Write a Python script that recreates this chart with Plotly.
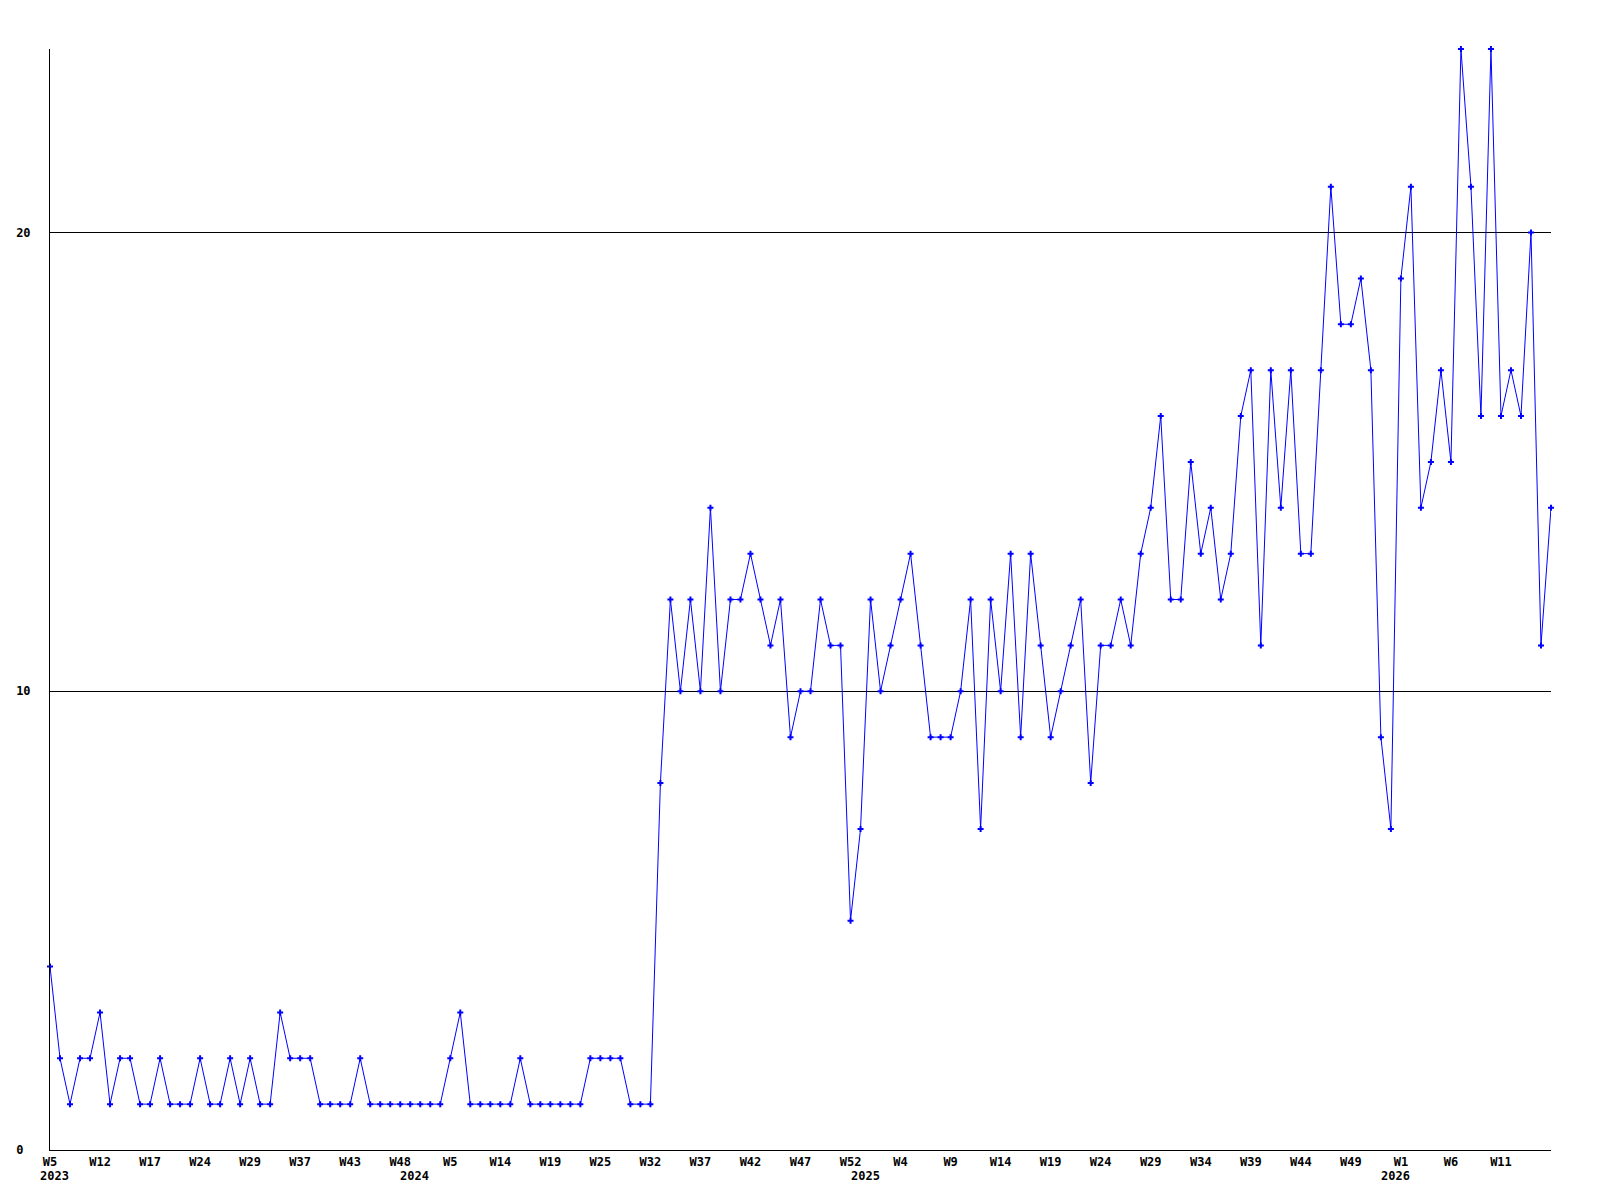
import plotly.graph_objects as go

# Week numbers present in the data, per year (weeks with no entry are skipped)
weeks_2023 = [5, 6, 7, 9, 10, 12, 13, 14, 15, 16, 17, 18, 20, 21, 23, 24, 25, 26, 27, 28,
              29, 31, 32, 34, 35, 37, 38, 39, 41, 42, 43, 44, 45, 46, 47, 48]
weeks_2024 = [1, 2, 3, 4, 5, 7, 9, 11, 12, 14, 15, 16, 17, 18, 19, 20, 21, 23, 24, 25,
              26, 28, 29, 30, 32] + list(range(33, 53))
weeks_2025 = list(range(0, 53))
weeks_2026 = list(range(0, 17))

years = [2023, 2024, 2025, 2026]

counts = [
    # 2023
    4, 2, 1, 2, 2, 3, 1, 2, 2, 1, 1, 2, 1, 1, 1, 2, 1, 1, 2, 1, 2, 1, 1, 3, 2, 2, 2, 1, 1, 1,
    1, 2, 1, 1, 1, 1,
    # 2024
    1, 1, 1, 1, 2, 3, 1, 1, 1, 1, 1, 2, 1, 1, 1, 1, 1, 1, 2, 2, 2, 2, 1, 1, 1,
    8, 12, 10, 12, 10, 14, 10, 12, 12, 13, 12, 11, 12, 9, 10, 10, 12, 11, 11, 5,
    # 2025
    7, 12, 10, 11, 12, 13, 11, 9, 9, 9, 10, 12, 7, 12, 10, 13, 9, 13, 11, 9,
    10, 11, 12, 8, 11, 11, 12, 11, 13, 14, 16, 12, 12, 15, 13, 14, 12, 13, 16, 17,
    11, 17, 14, 17, 13, 13, 17, 21, 18, 18, 19, 17, 9,
    # 2026
    7, 19, 21, 14, 15, 17, 15, 24, 21, 16, 24, 16, 17, 16, 20, 11, 14,
]

y_ticks = [0, 10, 20]

week_lists = [weeks_2023, weeks_2024, weeks_2025, weeks_2026]
categories = []
week_text = []
year_first = []
for yr, wl in zip(years, week_lists):
    year_first.append(f"{yr}-W{wl[0]:02d}")
    for w in wl:
        categories.append(f"{yr}-W{w:02d}")
        week_text.append(f"W{w}")

# label every 5th week, but not the final point
tick_cats = categories[:-1][::5]
tick_text = week_text[:-1][::5]

FONT = dict(family="DejaVu Sans Mono", size=12, color="black", weight="bold")

fig = go.Figure()
fig.add_trace(go.Scatter(
    x=categories, y=counts, mode="lines+markers",
    line=dict(color="#0000ff", width=1),
    marker=dict(symbol="cross", size=5, color="#0000ff"),
    cliponaxis=False, hoverinfo="x+y",
))

for yr, cat in zip(years, year_first):
    fig.add_annotation(x=cat, xref="x", y=0, yref="paper", text=str(yr),
                       showarrow=False, xanchor="left", yanchor="top",
                       xshift=-12, yshift=-17, font=FONT)

fig.update_layout(
    width=1600, height=1200,
    margin=dict(l=50, r=49, t=49, b=50),
    paper_bgcolor="white", plot_bgcolor="white",
    showlegend=False,
    xaxis=dict(type="category", range=[0, len(categories) - 1],
               showgrid=False, zeroline=False, showline=True,
               linecolor="black", linewidth=1, ticks="",
               tickmode="array", tickvals=tick_cats, ticktext=tick_text,
               tickangle=0, tickfont=FONT, ticklabelstandoff=1),
    yaxis=dict(range=[0, 24], tickmode="array", tickvals=y_ticks,
               ticktext=[str(v) + "\u00a0" * (2 - len(str(v))) for v in y_ticks],
               showgrid=True, gridcolor="black", gridwidth=1,
               zeroline=False, showline=True, linecolor="black", linewidth=1,
               ticks="", tickfont=FONT, ticklabelstandoff=16),
)

fig.write_html("out.html", config={"displayModeBar": False},
               post_script="document.body.style.margin='0';")
